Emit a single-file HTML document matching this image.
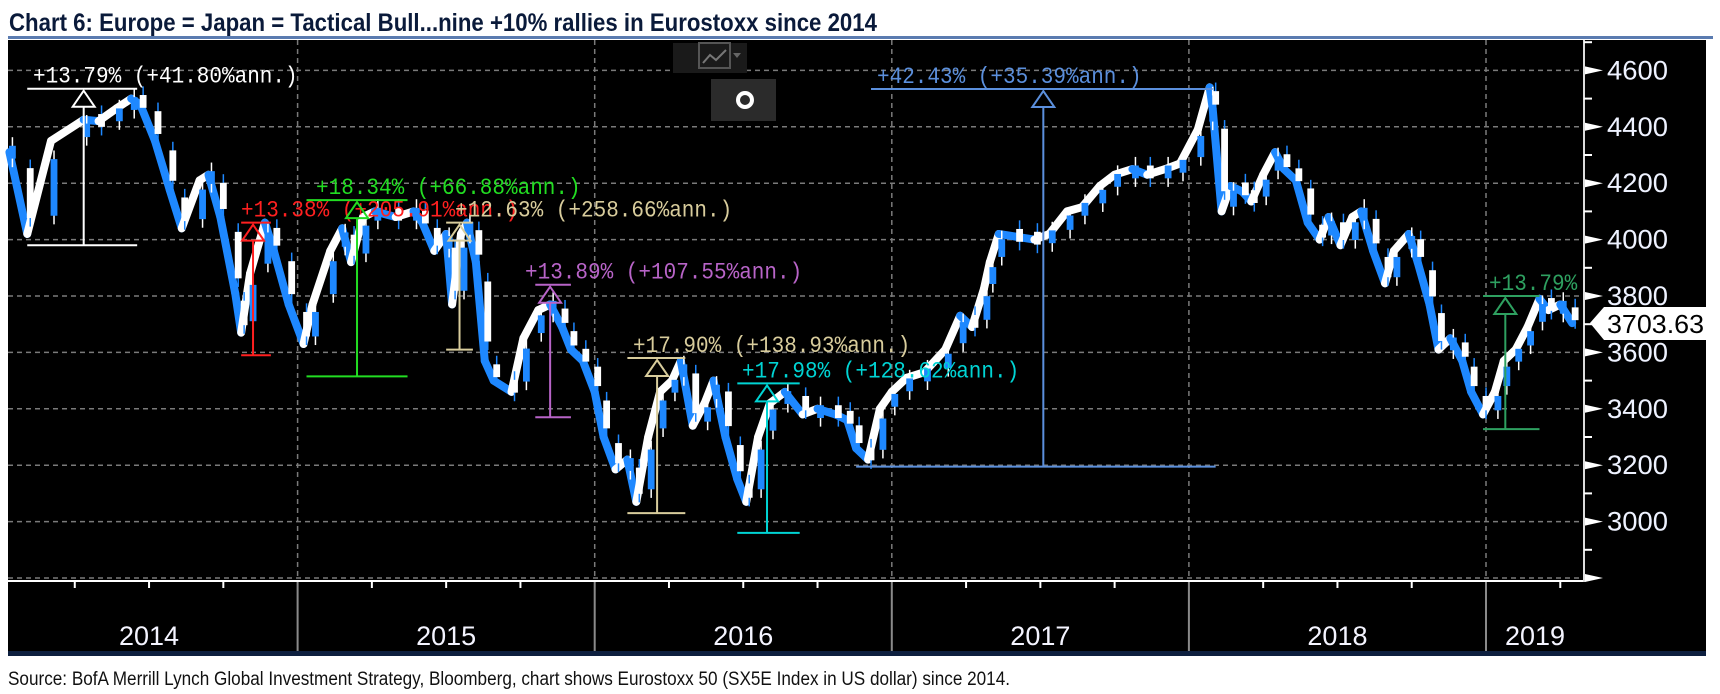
<!DOCTYPE html>
<html><head><meta charset="utf-8">
<style>
html,body{margin:0;padding:0;background:#fff;}
svg{display:block;}
text{font-family:"Liberation Sans",sans-serif;}
.mono{font-family:"Liberation Mono",monospace;}
.narrow{font-family:"Liberation Sans Narrow","Liberation Sans",sans-serif;}
</style></head>
<body>
<svg id="chart" width="1720" height="694" viewBox="0 0 1720 694" xmlns="http://www.w3.org/2000/svg">
  <text class="narrow" x="9" y="31" font-size="25" font-weight="bold" fill="#0a1a3a" textLength="868" lengthAdjust="spacingAndGlyphs">Chart 6: Europe = Japan  = Tactical Bull...nine +10% rallies in Eurostoxx since 2014</text>
  <rect x="8" y="36" width="1705" height="3" fill="#5a7bb0"/>
  <rect x="8" y="40" width="1698" height="611" fill="#000"/>
  <rect x="8" y="651" width="1698" height="5" fill="#0d1f3f"/>
  <g id="grid"></g>
  <g id="candles"></g>
  <g id="annots"></g>
  <g id="axes"></g>
  <g>
    <rect x="673" y="43" width="74" height="30" fill="#1a1a1a"/>
    <rect x="699" y="43" width="31" height="25" fill="none" stroke="#555" stroke-width="2"/>
    <polyline points="703,63 710,55 716,60 726,50" fill="none" stroke="#777" stroke-width="2"/>
    <polygon points="733,53 741,53 737,58" fill="#666"/>
  </g>
  <g>
    <rect x="711" y="79" width="65" height="42" fill="#2b2b2b"/>
    <circle cx="745" cy="100" r="7" fill="none" stroke="#fff" stroke-width="4"/>
  </g>
  <g>
    <polygon points="1590,323 1604,307 1706,307 1706,340 1604,340" fill="#fff"/>
    <text x="1607" y="333" font-size="26" fill="#000" textLength="97" lengthAdjust="spacingAndGlyphs">3703.63</text>
  </g>
  <text class="narrow" x="8" y="685" font-size="19" fill="#111" textLength="1002" lengthAdjust="spacingAndGlyphs">Source:  BofA Merrill Lynch Global Investment Strategy, Bloomberg, chart shows  Eurostoxx 50 (SX5E  Index in US dollar) since 2014.</text>
</svg>
<script>
// ---- data ----
const dates = [2014.03,2014.09,2014.17,2014.28,2014.33,2014.39,2014.44,2014.47,2014.52,2014.57,2014.61,2014.67,2014.70,2014.74,2014.79,2014.81,2014.84,2014.89,2014.92,2014.97,
2015.02,2015.05,2015.11,2015.15,2015.18,2015.22,2015.26,2015.33,2015.39,2015.42,2015.46,2015.50,2015.52,2015.55,2015.57,2015.60,2015.63,2015.66,2015.72,2015.76,2015.81,2015.85,2015.89,2015.92,2015.96,
2016.00,2016.03,2016.07,2016.11,2016.14,2016.18,2016.22,2016.26,2016.29,2016.33,2016.37,2016.40,2016.44,2016.48,2016.51,2016.55,2016.59,2016.64,2016.70,2016.75,2016.81,2016.85,2016.88,2016.92,2016.96,
2017.00,2017.05,2017.11,2017.18,2017.23,2017.27,2017.31,2017.33,2017.36,2017.42,2017.48,2017.53,2017.59,2017.64,2017.70,2017.75,2017.81,2017.86,2017.92,2017.97,
2018.03,2018.07,2018.08,2018.11,2018.14,2018.18,2018.21,2018.25,2018.29,2018.32,2018.36,2018.40,2018.44,2018.47,2018.51,2018.55,2018.58,2018.62,2018.66,2018.69,2018.74,2018.77,2018.81,2018.84,2018.88,2018.92,2018.95,2018.99,
2019.03,2019.06,2019.10,2019.14,2019.18,2019.21,2019.25,2019.29];
const closes = [4310,4020,4350,4425,4420,4465,4500,4480,4350,4175,4040,4210,4230,4080,3810,3670,3880,4060,3960,3770,
3630,3770,3960,4040,3920,4080,4100,4080,4100,4060,3960,4020,3770,4020,4060,3920,3570,3500,3460,3650,3750,3770,3690,3610,3570,
3460,3300,3185,3220,3070,3300,3460,3500,3570,3340,3420,3500,3300,3150,3070,3300,3420,3460,3380,3400,3380,3360,3260,3220,3400,
3460,3510,3530,3610,3730,3690,3825,3920,4020,4010,4000,4020,4100,4115,4190,4230,4250,4230,4250,4270,
4390,4540,4465,4100,4190,4170,4135,4230,4310,4250,4210,4060,4000,4080,3980,4080,4100,3960,3845,3960,4020,3920,3770,3610,3650,3570,3460,3380,
3460,3570,3610,3690,3790,3750,3770,3704];
const yTicks = [2800,3000,3200,3400,3600,3800,4000,4200,4400,4600];
const yearLabels = ["2014","2015","2016","2017","2018","2019"];
const yearStarts = [2014,2015,2016,2017,2018,2019];
// annotations: rally measurements
const annLabels = ["+13.79% (+41.80%ann.)","+13.38% (+205.91%ann.)","+18.34% (+66.88%ann.)","+12.63% (+258.66%ann.)","+13.89% (+107.55%ann.)","+17.90% (+138.93%ann.)","+17.98% (+128.62%ann.)","+42.43% (+35.39%ann.)","+13.79%"];
const annLow = [3980,3590,3515,3610,3370,3030,2960,3195,3328];
const annHigh = [4535,4060,4140,4060,3840,3580,3490,4534,3800];
const annDate = [2014.28,2014.85,2015.20,2015.545,2015.85,2016.21,2016.58,2017.51,2019.065];
const annFrom = [2014.09,2014.81,2015.03,2015.50,2015.80,2016.11,2016.48,2016.93,2018.99];
const annTo = [2014.46,2014.91,2015.37,2015.59,2015.92,2016.305,2016.69,2018.08,2019.18];
const annLowFrom = [2014.09,2014.81,2015.03,2015.50,2015.80,2016.11,2016.48,2016.88,2018.99];
const annLowTo = [2014.46,2014.91,2015.37,2015.59,2015.92,2016.305,2016.69,2018.09,2019.18];
const annColors = ["#ffffff","#ff2020","#22dd22","#d8cc9c","#b864c8","#d8cc9c","#00d4d4","#5b8fdc","#2ea060"];
const annTextX = [33,241,316,455,525,633,742,877,1489];

// ---- scales ----
const X0 = 0.5, PXY = 297.1, PLOT_R = 1584, PLOT_L = 8;
function xs(t){ return X0 + (t-2014)*PXY; }
function ys(v){ return 578 - (v-2800)*0.282; }
const NS = "http://www.w3.org/2000/svg";
function mk(tag, attrs, parent){
  const e = document.createElementNS(NS, tag);
  for (const k in attrs) e.setAttribute(k, attrs[k]);
  parent.appendChild(e);
  return e;
}
const grid = document.getElementById('grid');
const axes = document.getElementById('axes');
const cg = document.getElementById('candles');
const ag = document.getElementById('annots');

// grid lines
yTicks.forEach(v => {
  const l = mk('line', {x1:PLOT_L, x2:PLOT_R, y1:ys(v), y2:ys(v), stroke:'#7a7a7a', 'stroke-width':1.5, 'stroke-dasharray':'5,4'}, grid);
  
  
});
yearStarts.slice(1).forEach(t => {
  const l = mk('line', {x1:xs(t), x2:xs(t), y1:40, y2:581, stroke:'#7a7a7a', 'stroke-width':1.5, 'stroke-dasharray':'5,4'}, grid);
  
  
  const s = mk('line', {x1:xs(t), x2:xs(t), y1:581, y2:651, stroke:'#8a8a8a', 'stroke-width':2}, grid);
  
  
});

// price band segments + small candles
for (let i = 1; i < closes.length; i++) {
  const up = closes[i] >= closes[i-1];
  const seg = mk('line', {x1:xs(dates[i-1]), y1:ys(closes[i-1]), x2:xs(dates[i]), y2:ys(closes[i]), stroke:up?'#ffffff':'#1e88ff', 'stroke-width':8, 'stroke-linecap':'round'}, cg);
  
  
}
for (let i = 0; i < closes.length; i++) {
  const o = i > 0 ? closes[i-1] : closes[0];
  const c = closes[i];
  const xR = xs(dates[i]);
  const up = c >= o;
  const mid = (ys(o) + ys(c)) / 2;
  const h = Math.max(12, Math.abs(ys(o) - ys(c)) * 0.6);
  const wick = mk('line', {x1:xR+3, x2:xR+3, y1:mid-h/2-9, y2:mid+h/2+9, stroke:up?'#fff':'#1e88ff', 'stroke-width':1.5}, cg);
  
  
  const r = mk('rect', {x:xR, y:mid-h/2, width:6, height:h, fill:up?'#1e88ff':'#ffffff', stroke:up?'#1e88ff':'#ffffff', 'stroke-width':0.8}, cg);
  
  
}

// annotations
const clip = mk('clipPath', {id:'plotclip'}, document.getElementById('chart'));
mk('rect', {x:PLOT_L, y:40, width:PLOT_R-PLOT_L, height:541}, clip);
ag.setAttribute('clip-path', 'url(#plotclip)');
annLabels.forEach((lab, i) => {
  const col = annColors[i];
  const g = mk('g', {}, ag);
  
  
  const yt = ys(annHigh[i]), yb = ys(annLow[i]), xv = xs(annDate[i]);
  mk('line', {x1:xs(annFrom[i]), x2:xs(annTo[i]), y1:yt, y2:yt, stroke:col, 'stroke-width':2}, g);
  mk('line', {x1:xs(annLowFrom[i]), x2:xs(annLowTo[i]), y1:yb, y2:yb, stroke:col, 'stroke-width':2}, g);
  mk('line', {x1:xv, x2:xv, y1:yt+18, y2:yb, stroke:col, 'stroke-width':2}, g);
  mk('polygon', {points:`${xv},${yt+2} ${xv-11},${yt+18} ${xv+11},${yt+18}`, fill:'none', stroke:col, 'stroke-width':2}, g);
  const t = mk('text', {x:annTextX[i], y:yt-6, 'font-size':23, fill:col, 'class':'mono', textLength: lab.length*12.6, lengthAdjust:'spacingAndGlyphs'}, g);
  t.textContent = lab;
  
  
});

// axes
const xl = mk('line', {x1:PLOT_L, x2:PLOT_R, y1:581, y2:581, stroke:'#fff', 'stroke-width':2}, axes);


const yl = mk('line', {x1:PLOT_R, x2:PLOT_R, y1:40, y2:582, stroke:'#ddd', 'stroke-width':2}, axes);


yearStarts.forEach(y0 => {
  [0.25,0.5,0.75].forEach(q => {
    const xx = xs(y0+q);
    if (xx < PLOT_R) {
      const tk = mk('line', {x1:xx, x2:xx, y1:581, y2:588, stroke:'#fff', 'stroke-width':2}, axes);
      
      
    }
  });
});
yearLabels.forEach((lab, i) => {
  const a = xs(yearStarts[i]);
  const b = i < yearStarts.length-1 ? xs(yearStarts[i+1]) : 1590;
  const t = mk('text', {x:i===5 ? 1535 : (a+b)/2, y:645, 'font-size':27, fill:'#f4f4ff', 'text-anchor':'middle'}, axes);
  t.textContent = lab;
  
  
});
yTicks.forEach(v => {
  const y = ys(v);
  const m = mk('polygon', {points:`${PLOT_R+1},${y-4} ${PLOT_R+1},${y+4} ${PLOT_R+19},${y}`, fill:'#fff'}, axes);
  
  
  const mt = mk('line', {x1:PLOT_R, x2:PLOT_R+8, y1:y-28.2, y2:y-28.2, stroke:'#fff', 'stroke-width':2}, axes);
  
  
  if (v > 2800) {
    const t = mk('text', {x:1607, y:y+9, 'font-size':27, fill:'#eef2ff', textLength:61, lengthAdjust:'spacingAndGlyphs'}, axes);
    t.textContent = String(v);
    
    
  }
});
</script>
</body></html>
